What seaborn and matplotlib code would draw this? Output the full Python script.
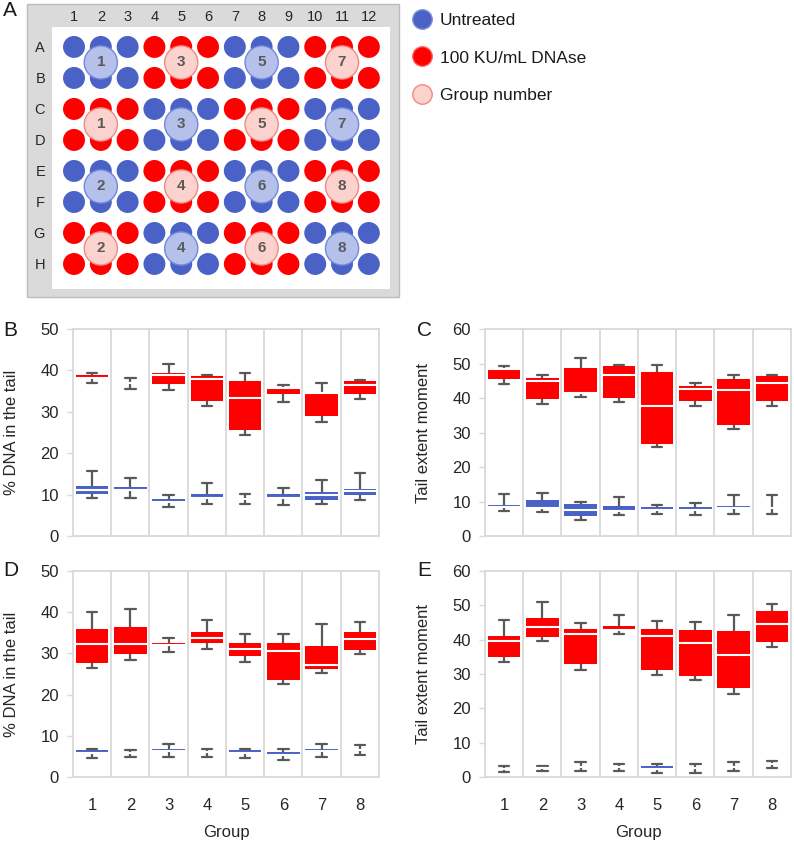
import numpy as np
import pandas as pd
import matplotlib
matplotlib.use("Agg")
import matplotlib.pyplot as plt
from matplotlib.lines import Line2D
from matplotlib.patches import Rectangle
import seaborn as sns

# ---------------- DATA ----------------
GROUPS = ["1", "2", "3", "4", "5", "6", "7", "8"]
TREATMENTS = ["Untreated", "100 KU/mL DNAse"]

# five-number summaries per group: (min, q1, median, q3, max)
B_untreated = [(9.1, 10.2, 11.1, 12.1, 15.6), (9.1, 11.0, 11.0, 11.9, 14.0),
               (7.0, 8.1, 8.1, 8.9, 9.9), (7.7, 9.2, 9.2, 10.1, 12.7),
               (7.7, 9.0, 9.0, 9.0, 10.2), (7.4, 9.2, 9.2, 10.1, 11.5),
               (7.8, 8.7, 9.9, 10.6, 13.5), (8.6, 9.8, 10.9, 11.3, 15.3)]
B_dnase = [(36.9, 38.1, 38.1, 38.8, 39.3), (35.6, 36.9, 36.9, 36.9, 38.1),
           (35.2, 36.8, 39.0, 39.4, 41.5), (31.5, 32.5, 38.0, 38.6, 39.0),
           (24.5, 25.6, 33.4, 37.4, 39.4), (32.3, 34.2, 35.7, 35.7, 36.4),
           (27.5, 28.9, 34.5, 34.5, 36.9), (33.1, 34.2, 36.6, 37.4, 37.7)]

C_untreated = [(7.3, 8.3, 8.3, 9.1, 12.2), (6.9, 8.1, 8.1, 10.3, 12.6),
               (4.6, 5.9, 7.5, 9.2, 10.0), (6.0, 7.3, 7.3, 8.7, 11.2),
               (6.5, 7.6, 7.6, 8.4, 9.0), (6.0, 7.5, 7.5, 8.3, 9.5),
               (6.5, 8.0, 8.0, 8.8, 11.8), (6.5, 8.2, 8.2, 8.2, 11.8)]
C_dnase = [(44.2, 45.5, 48.3, 48.3, 49.2), (38.4, 39.7, 44.8, 45.9, 46.7),
           (40.3, 41.6, 41.6, 48.7, 51.6), (38.9, 40.1, 46.6, 49.3, 49.7),
           (25.7, 26.8, 37.7, 47.5, 49.5), (37.8, 39.1, 42.6, 43.4, 44.3),
           (31.0, 32.3, 42.3, 45.4, 46.6), (37.8, 39.2, 44.3, 46.3, 46.6)]

D_untreated = [(4.5, 5.8, 5.8, 6.5, 6.9), (4.9, 5.8, 5.8, 5.8, 6.5),
               (4.9, 6.2, 6.2, 6.9, 8.1), (4.9, 6.0, 6.0, 6.0, 6.9),
               (4.5, 5.8, 5.8, 6.5, 6.9), (4.1, 5.4, 5.4, 6.1, 6.9),
               (4.9, 6.2, 6.2, 6.9, 8.1), (5.3, 6.5, 6.5, 6.5, 7.7)]
D_dnase = [(26.5, 27.7, 32.3, 36.0, 40.0), (28.5, 29.8, 32.3, 36.4, 40.8),
           (30.3, 31.7, 32.0, 32.5, 33.8), (31.1, 32.5, 33.7, 35.3, 38.0),
           (27.9, 29.3, 31.1, 32.5, 34.8), (22.5, 23.5, 30.5, 32.5, 34.8),
           (25.3, 26.3, 27.1, 31.9, 37.2), (29.8, 30.9, 33.5, 35.3, 37.6)]

E_untreated = [(1.4, 2.3, 2.3, 2.3, 3.3), (1.8, 2.5, 2.5, 2.5, 3.3),
               (1.8, 3.0, 3.0, 3.0, 4.3), (1.8, 2.8, 2.8, 2.8, 3.8),
               (1.3, 2.4, 2.4, 3.1, 3.8), (1.3, 2.5, 2.5, 2.5, 3.8),
               (1.8, 3.0, 3.0, 3.0, 4.3), (2.7, 3.7, 3.7, 3.7, 4.7)]
E_dnase = [(33.6, 34.8, 39.5, 41.2, 45.6), (39.6, 40.9, 43.6, 46.3, 51.0),
           (31.1, 32.8, 41.7, 43.2, 44.7), (41.6, 42.8, 42.8, 44.1, 47.1),
           (29.6, 31.1, 41.0, 43.2, 45.5), (28.2, 29.4, 39.0, 42.8, 45.1),
           (24.2, 26.0, 35.5, 42.4, 47.1), (38.0, 39.4, 44.6, 48.2, 50.5)]

# plate layout: row pairs, treatment of first column block, group numbers
ROW_LETTERS = ["A", "B", "C", "D", "E", "F", "G", "H"]
PAIR_START = ["Untreated", "100 KU/mL DNAse", "Untreated", "100 KU/mL DNAse"]
PAIR_GROUPS = [[1, 3, 5, 7], [1, 3, 5, 7], [2, 4, 6, 8], [2, 4, 6, 8]]

# ---------------- STYLE ----------------
BLUE = "#4a62c6"
RED = "#ff0000"
LIGHT = {"Untreated": "#b5c1eb", "100 KU/mL DNAse": "#fbd2ce"}
EDGE = {"Untreated": "#7388dc", "100 KU/mL DNAse": "#f08a80"}
PAL = {"Untreated": BLUE, "100 KU/mL DNAse": RED}
GRID = "#d9d9d9"
WHISK = "#595959"

sns.set_style("white")
plt.rcParams["font.family"] = ["Liberation Sans", "DejaVu Sans"]
plt.rcParams["text.color"] = "#1a1a1a"

fig = plt.figure(figsize=(7.94, 8.42), dpi=100)

# ---------------- Panel A: plate ----------------
fig.add_artist(Rectangle((0.034, 0.6473), 0.4685, 0.348, transform=fig.transFigure,
                         facecolor="#dadada", edgecolor="#bcbcbc", lw=1, zorder=-1))
ax_a = fig.add_axes([0.0655, 0.6568, 0.4257, 0.3112])

wells = []
for p, start in enumerate(PAIR_START):
    other = TREATMENTS[1] if start == TREATMENTS[0] else TREATMENTS[0]
    for r in (2 * p, 2 * p + 1):
        for c in range(1, 13):
            block = (c - 1) // 3
            wells.append((c, r, start if block % 2 == 0 else other))
wells = pd.DataFrame(wells, columns=["col", "row", "treatment"])

groups = []
for p, start in enumerate(PAIR_START):
    other = TREATMENTS[1] if start == TREATMENTS[0] else TREATMENTS[0]
    for b, g in enumerate(PAIR_GROUPS[p]):
        groups.append((3 * b + 2, 2 * p + 0.5, g, start if b % 2 == 0 else other))
groups = pd.DataFrame(groups, columns=["col", "row", "group", "treatment"])

sns.scatterplot(data=wells, x="col", y="row", hue="treatment", palette=PAL,
                s=250, linewidth=0, legend=False, ax=ax_a, zorder=2)
sns.scatterplot(data=groups, x="col", y="row", hue="treatment", palette=LIGHT,
                s=570, edgecolor=[EDGE[t] for t in groups["treatment"]],
                linewidth=1, legend=False, ax=ax_a, zorder=3)
for _, g in groups.iterrows():
    ax_a.text(g["col"], g["row"], str(g["group"]), ha="center", va="center",
              fontsize=11, fontweight="bold", color="#5a5a5a", zorder=4)

ax_a.set_xlim(0.179, 12.79)
ax_a.set_ylim(7.806, -0.645)
ax_a.set_xticks(range(1, 13))
ax_a.set_xticklabels([str(c) for c in range(1, 13)])
ax_a.set_yticks(range(8))
ax_a.set_yticklabels(ROW_LETTERS)
ax_a.xaxis.tick_top()
ax_a.tick_params(axis="x", length=0, pad=2, labelsize=10.5)
ax_a.tick_params(axis="y", length=0, pad=5, labelsize=10.5)
ax_a.set_xlabel("")
ax_a.set_ylabel("")
for s in ax_a.spines.values():
    s.set_visible(False)

# legend
handles = [Line2D([], [], marker="o", ls="", markersize=14, markerfacecolor=BLUE,
                  markeredgecolor="#7b8fe0", markeredgewidth=1),
           Line2D([], [], marker="o", ls="", markersize=14, markerfacecolor=RED,
                  markeredgecolor="#ff5a5a", markeredgewidth=1),
           Line2D([], [], marker="o", ls="", markersize=14, markerfacecolor=LIGHT[TREATMENTS[1]],
                  markeredgecolor=EDGE[TREATMENTS[1]], markeredgewidth=1)]
fig.legend(handles, ["Untreated", "100 KU/mL DNAse", "Group number"],
           loc="upper left", bbox_to_anchor=(0.517, 0.985), frameon=False,
           fontsize=12.5, labelspacing=1.3, handlelength=1.3, handletextpad=0.4,
           borderpad=0, borderaxespad=0)


# ---------------- Panels B-E: box plots ----------------
def long_frame(untreated, dnase):
    rows = []
    for g, u, d in zip(GROUPS, untreated, dnase):
        for v in u:
            rows.append((g, TREATMENTS[0], v))
        for v in d:
            rows.append((g, TREATMENTS[1], v))
    return pd.DataFrame(rows, columns=["group", "treatment", "value"])


def box_panel(rect, untreated, dnase, ymax, ylabel, show_x):
    ax = fig.add_axes(rect)
    df = long_frame(untreated, dnase)
    sns.boxplot(data=df, x="group", y="value", hue="treatment", order=GROUPS,
                hue_order=TREATMENTS, palette=PAL, saturation=1, dodge=False,
                whis=(0, 100), width=0.85, showfliers=False, legend=False, ax=ax,
                boxprops=dict(edgecolor="#ffd0d0", linewidth=0),
                medianprops=dict(color="white", linewidth=1.5),
                whiskerprops=dict(color=WHISK, linewidth=1.6),
                capprops=dict(color=WHISK, linewidth=1.6),
                capwidths=0.27)
    ax.set_xlim(-0.5, 7.5)
    ax.set_ylim(0, ymax)
    ax.set_yticks(np.arange(0, ymax + 1, 10))
    ax.set_xticks(np.arange(0.5, 7, 1), minor=True)
    ax.grid(which="minor", axis="x", color=GRID, lw=1.3)
    ax.grid(which="major", axis="y", visible=False)
    for s in ax.spines.values():
        s.set_visible(True)
        s.set_color(GRID)
        s.set_linewidth(1.3)
    ax.tick_params(axis="y", which="major", direction="out", length=4, width=1,
                   color=GRID, pad=6, labelsize=12, left=True)
    ax.tick_params(axis="x", which="both", length=0, pad=15, labelsize=12)
    ax.set_ylabel(ylabel, fontsize=12)
    ax.yaxis.set_label_coords(-0.176, 0.5)
    if show_x:
        ax.set_xlabel("Group", fontsize=12, labelpad=9)
    else:
        ax.set_xlabel("")
        ax.tick_params(axis="x", labelbottom=False)
    return ax


box_panel([0.0919, 0.3634, 0.3854, 0.2458], B_untreated, B_dnase, 50, "% DNA in the tail", False)
box_panel([0.6108, 0.3634, 0.3854, 0.2458], C_untreated, C_dnase, 60, "Tail extent moment", False)
box_panel([0.0919, 0.0772, 0.3854, 0.2447], D_untreated, D_dnase, 50, "% DNA in the tail", True)
box_panel([0.6108, 0.0772, 0.3854, 0.2447], E_untreated, E_dnase, 60, "Tail extent moment", True)

# panel letters
for letter, x, y in [("A", 0.004, 0.987), ("B", 0.004, 0.607), ("C", 0.525, 0.607),
                     ("D", 0.004, 0.322), ("E", 0.525, 0.322)]:
    fig.text(x, y, letter, fontsize=15, ha="left", va="center")

plt.savefig("out.png", dpi=100)
plt.close()
print("Saved: out.png")
